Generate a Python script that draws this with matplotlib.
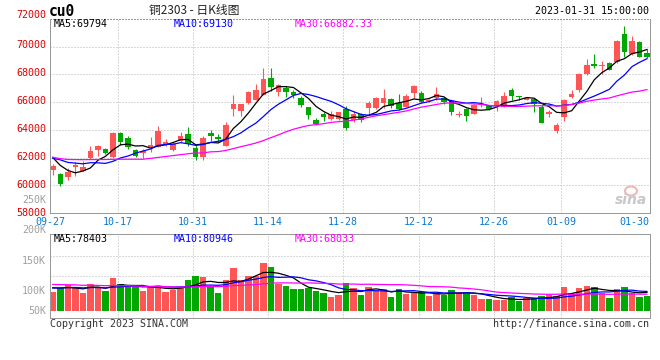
import pandas as pd
import matplotlib
matplotlib.use("Agg")
import matplotlib.pyplot as plt
from matplotlib.patches import Ellipse

# cu2303 daily candles, 2022-09-27 .. 2023-01-31
opens = [61120, 60800, 60570, 61290, 61050, 61980, 62550, 62620, 62025, 63786,
         63405, 62548, 62334, 62739, 62787, 63000, 62550, 63190, 63714, 62720,
         62050, 63763, 63477, 62858, 65476, 65357, 65905, 66167, 66547, 67760,
         66714, 67050, 66760, 66285, 65620, 64690, 65143, 64762, 64810, 65476,
         64690, 65143, 65595, 65548, 65952, 66238, 65952, 65667, 66690, 66666,
         66048, 66285, 66285, 66048, 65048, 65476, 65167, 65762, 65690, 65690,
         65667, 66857, 66476, 66190, 66238, 65620, 65143, 63930, 64952, 66357,
         66857, 68023, 68738, 68595, 68833, 68880, 70905, 69500, 70357, 69524]
highs = [61550, 60870, 61240, 61670, 61720, 62830, 62900, 62690, 63830, 63834,
         63572, 62620, 62620, 63500, 64286, 63310, 63140, 63858, 64240, 62930,
         63550, 64025, 63690, 64572, 66500, 65880, 66833, 67310, 68450, 68450,
         67310, 67190, 66900, 66430, 65667, 64880, 65310, 65357, 65310, 65714,
         65380, 65214, 66095, 66380, 66950, 66285, 66595, 66570, 67238, 66810,
         66238, 67095, 66380, 66095, 65333, 65571, 65857, 66380, 65810, 66143,
         66738, 67024, 66476, 66380, 66285, 65786, 65430, 64476, 66238, 66905,
         68095, 69118, 69450, 69000, 68880, 70476, 71500, 70738, 70428, 69833]
lows = [60760, 59930, 60360, 60670, 61000, 61900, 62120, 62290, 61950, 62906,
        62620, 62025, 62000, 62380, 62740, 62860, 62500, 63100, 62860, 61860,
        61830, 63167, 63170, 62810, 65000, 65000, 65880, 66120, 66500, 66830,
        66430, 66357, 66310, 65670, 64810, 64357, 64643, 64690, 64740, 63976,
        64570, 64548, 65167, 65500, 65600, 65570, 65430, 65620, 66333, 65930,
        66000, 66166, 65880, 65072, 64905, 64620, 65143, 65667, 65405, 65333,
        65620, 66143, 66143, 66143, 65310, 64524, 64952, 63786, 64667, 66310,
        66738, 67928, 68428, 68047, 68285, 68810, 69238, 69405, 69238, 69190]
closes = [61360, 60060, 60950, 61430, 61335, 62480, 62830, 62360, 63790, 63143,
          62739, 62144, 62477, 62906, 63930, 63140, 62980, 63524, 62950, 62020,
          63400, 63572, 63334, 64334, 65833, 65833, 66714, 66857, 67690, 67070,
          67260, 66714, 66547, 65760, 65048, 64405, 64905, 65167, 65262, 64167,
          65143, 64738, 65952, 66310, 66310, 65738, 65476, 66452, 67166, 66000,
          66190, 66595, 65976, 65262, 65167, 65024, 65810, 65830, 65476, 66095,
          66428, 66428, 66405, 66310, 65857, 64524, 65262, 64357, 66143, 66619,
          68000, 68714, 68595, 68690, 68333, 70405, 69643, 70428, 69285, 69238]
# volume in thousands of lots
volumes = [78.7, 96.6, 109.0, 98.0, 75.9, 111.8, 100.7, 84.2, 136.6, 111.8,
           98.0, 98.0, 84.2, 103.5, 104.9, 80.0, 86.9, 99.4, 129.7, 146.3,
           140.8, 98.0, 75.9, 129.7, 179.4, 128.3, 146.3, 144.9, 198.7, 182.2,
           110.4, 103.5, 91.1, 91.1, 96.6, 84.2, 75.9, 58.0, 66.2, 115.9,
           96.6, 66.2, 98.0, 81.4, 91.1, 58.0, 91.1, 71.8, 73.1, 78.7,
           62.1, 73.1, 66.2, 86.9, 78.7, 74.5, 66.2, 49.7, 49.7, 45.5,
           45.5, 56.6, 41.4, 53.8, 53.8, 62.1, 64.9, 62.1, 99.4, 74.5,
           95.2, 103.5, 99.4, 74.5, 53.8, 91.1, 99.4, 74.5, 58.0, 62.1]

# sessions before 09-27, only needed to warm up the moving averages
prior_closes = [63050, 62900, 61600, 61500, 62300, 62700, 62400, 63300, 63000, 62700,
                62200, 62500, 61000, 61800, 61200, 61000, 61500, 61000, 60300, 63300,
                61210, 62800, 61930, 61835, 61715, 62900, 62750, 62300, 60700]
prior_volumes = [118, 125, 112, 130, 108, 121, 115, 127, 110, 119,
                 124, 113, 120, 116, 109, 128, 117, 111, 122, 105,
                 90, 98, 88, 95, 96, 104, 97, 108, 95]

tick_idx = [0, 9, 19, 29, 39, 49, 59, 68, 78]
tick_labels = ["09-27", "10-17", "10-31", "11-14", "11-28", "12-12", "12-26", "01-09", "01-30"]
price_grid = [60000, 62000, 64000, 66000, 68000, 70000]
price_labels = ["72000", "70000", "68000", "66000", "64000", "62000", "60000", "58000"]
vol_labels = ["250K", "200K", "150K", "100K", "50K"]
ma_price_text = ["MA5:69794", "MA10:69130", "MA30:66882.33"]
ma_vol_text = ["MA5:78403", "MA10:80946", "MA30:68033"]

UP = "#ff5555"
DOWN = "#00a800"
GRID = "#b4b4b4"
FRAME = "#999999"
MA_COLORS = ["black", "#0000ff", "#ff00ff"]
MONO = "DejaVu Sans Mono"
DOT = (0, (1, 2))
W, H = 660, 360


def fx(x):
    return x / W


def fy(y):
    return 1 - y / H


def moving_averages(prior, values):
    s = pd.Series(list(prior) + list(values), dtype=float)
    n = len(prior)
    return [s.rolling(k).mean().values[n:] for k in (5, 10, 30)]


fig = plt.figure(figsize=(6.6, 3.6), dpi=100)
ax = fig.add_axes([fx(50), fy(213), 600 / W, 194 / H])
axv = fig.add_axes([fx(50), fy(318), 600 / W, 84 / H])

n = len(closes)
x = list(range(n))
xlim = (-0.372, 79.41)

# candles
for i in x:
    o, h, l, c = opens[i], highs[i], lows[i], closes[i]
    col = UP if c >= o else DOWN
    ax.vlines(i, l, h, color=col, lw=0.8, zorder=2)
    ax.bar(i, max(abs(c - o), 70), bottom=min(o, c), width=0.74, color=col,
           lw=0, zorder=2)

for ma, col in zip(moving_averages(prior_closes, closes), MA_COLORS):
    ax.plot(x, ma, color=col, lw=0.9, zorder=3)

# volume
vcols = [UP if closes[i] >= opens[i] else DOWN for i in x]
axv.bar(x, volumes, width=0.86, color=vcols, lw=0, zorder=2)
for ma, col in zip(moving_averages(prior_volumes, volumes), MA_COLORS):
    axv.plot(x, ma, color=col, lw=0.9, zorder=3)

ax.set_xlim(*xlim)
ax.set_ylim(58000, 72000)
axv.set_xlim(*xlim)
axv.set_ylim(-29, 319)

for p in price_grid:
    ax.axhline(p, color=GRID, lw=0.72, ls=DOT, zorder=0)
for v in (146, 229):
    axv.axhline(v, color=GRID, lw=0.72, ls=DOT, zorder=0)
for t in tick_idx[1:-1]:
    for a in (ax, axv):
        a.axvline(t - 0.372, color=GRID, lw=0.72, ls=DOT, zorder=0)

for a in (ax, axv):
    a.set_xticks([])
    a.set_yticks([])
    for sp in a.spines.values():
        sp.set_color(FRAME)
        sp.set_linewidth(0.72)
ax.spines["top"].set_linestyle(DOT)

# axis labels
price_y = [15, 44.5, 72.5, 100.5, 128.5, 156.5, 185, 213]
for lab, yy in zip(price_labels, price_y):
    fig.text(fx(46), fy(yy), lab, ha="right", va="center", color="#e00000",
             family=MONO, fontsize=7.2)
vol_y = [200, 230.5, 260.5, 291, 311.3]
for lab, yy in zip(vol_labels, vol_y):
    fig.text(fx(46), fy(yy), lab, ha="right", va="center", color="#a0a0a0",
             family=MONO, fontsize=7.2)

for t, lab in zip(tick_idx, tick_labels):
    if t == tick_idx[-1]:
        fig.text(fx(649), fy(222), lab, ha="right", va="center",
                 color="#0b78d0", family=MONO, fontsize=7.2)
    else:
        xp = 50 + 7.52 * t
        fig.text(fx(xp), fy(222), lab, ha="center", va="center",
                 color="#0b78d0", family=MONO, fontsize=7.2)

# legends
for txt, xp, col in zip(ma_price_text, (54, 174, 295), MA_COLORS):
    fig.text(fx(xp), fy(24), txt, ha="left", va="center", color=col,
             family=MONO, fontsize=7.2)
for txt, xp, col in zip(ma_vol_text, (54, 174, 295), MA_COLORS):
    fig.text(fx(xp), fy(238.7), txt, ha="left", va="center", color=col,
             family=MONO, fontsize=7.2)

# header / footer
fig.text(fx(49), fy(11.5), "cu0", ha="left", va="center", family=MONO,
         fontsize=10.5, fontweight="bold")
fig.text(fx(194), fy(10.5), "铜2303 - 日K线图", ha="center", va="center",
         family=["Noto Sans CJK SC", "DejaVu Sans"], fontsize=8.5, color="#222222")
fig.text(fx(649), fy(11.5), "2023-01-31 15:00:00", ha="right", va="center",
         family=MONO, fontsize=7.2)
fig.text(fx(50), fy(324), "Copyright 2023 SINA.COM", ha="left", va="center",
         family=MONO, fontsize=7.2, color="#333333")
fig.text(fx(649), fy(324), "http://finance.sina.com.cn", ha="right", va="center",
         family=MONO, fontsize=7.2, color="#333333")

# faint sina watermark
fig.patches.append(Ellipse((fx(631), fy(191)), 12 / W, 9 / H, transform=fig.transFigure,
                           fill=False, edgecolor="#f2b8b8", lw=1.5))
fig.text(fx(647), fy(200), "sina", ha="right", va="center", fontsize=10,
         fontweight="bold", style="italic", color="#c8c8c8")

fig.savefig("out.png", dpi=100)
